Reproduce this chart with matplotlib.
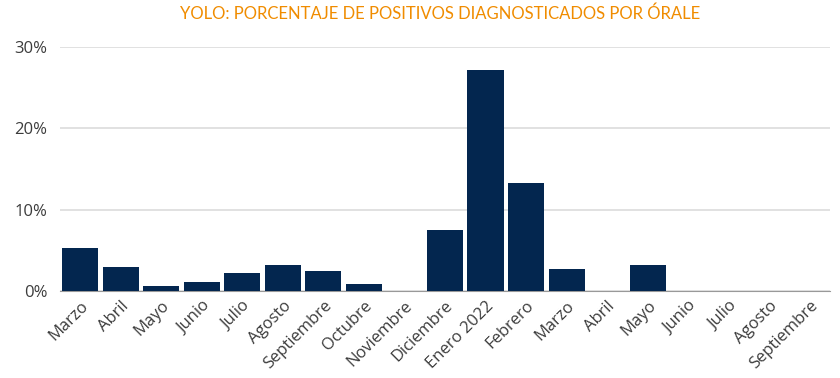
import matplotlib.pyplot as plt
from matplotlib.ticker import FuncFormatter

meses = ['Marzo', 'Abril', 'Mayo', 'Junio', 'Julio', 'Agosto', 'Septiembre',
         'Octubre', 'Noviembre', 'Diciembre', 'Enero 2022', 'Febrero', 'Marzo',
         'Abril', 'Mayo', 'Junio', 'Julio', 'Agosto', 'Septiembre']
positivos = [5.3, 2.95, 0.6, 1.15, 2.2, 3.25, 2.45, 0.85, 0.0, 7.45, 27.2,
             13.25, 2.65, 0.0, 3.15, 0.0, 0.0, 0.0, 0.0]

plt.rcParams['font.family'] = ['Open Sans', 'DejaVu Sans']

fig = plt.figure(figsize=(8.4, 3.78), dpi=100)
ax = fig.add_axes([60 / 840, 1 - 291 / 378, 770 / 840, 244 / 378])

x = range(len(meses))
ax.bar(x, positivos, width=0.89, color='#03264f', zorder=3)

ax.set_xlim(-0.5, len(meses) - 0.5)
ax.set_ylim(0, 30)
ax.set_yticks([0, 10, 20, 30])
ax.yaxis.set_major_formatter(FuncFormatter(lambda v, p: f'{v:.0f}%'))
ax.grid(axis='y', color='#dcdcdc', linewidth=1.2, zorder=0)

for s in ['top', 'right', 'left']:
    ax.spines[s].set_visible(False)
ax.spines['bottom'].set_color('#999999')
ax.tick_params(axis='both', length=0, labelsize=12, labelcolor='#3c3c3c')
ax.tick_params(axis='y', pad=9)
ax.tick_params(axis='x', pad=5)

ax.set_xticks(list(x))
ax.set_xticklabels(meses, rotation=45, ha='right', rotation_mode='anchor')

fig.text(0.524, 0.963, 'YOLO: PORCENTAJE DE POSITIVOS DIAGNOSTICADOS POR ÓRALE',
         ha='center', va='center', color='#f08c00', fontsize=12,
         family=['Lato', 'DejaVu Sans'])

plt.savefig('out.png', dpi=100)
